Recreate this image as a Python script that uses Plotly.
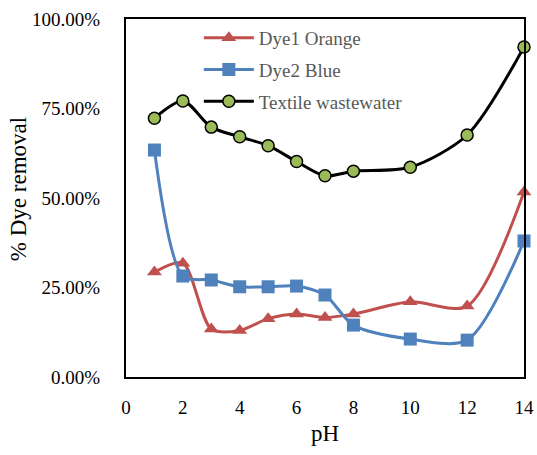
import plotly.graph_objects as go

ph = [1, 2, 3, 4, 5, 6, 7, 8, 10, 12, 14]
dye1_orange = [29.3, 31.8, 13.4, 13.0, 16.3, 17.6, 16.6, 17.6, 21.0, 19.8, 51.7]
dye2_blue = [63.4, 28.2, 27.1, 25.2, 25.2, 25.4, 22.9, 14.5, 10.6, 10.3, 38.0]
textile = [72.3, 77.1, 69.8, 67.1, 64.6, 60.2, 56.2, 57.5, 58.6, 67.6, 92.2]

x_ticks = [0, 2, 4, 6, 8, 10, 12, 14]
y_ticks = [0, 25, 50, 75, 100]
y_labels = ["0.00%", "25.00%", "50.00%", "75.00%", "100.00%"]
y_title = "% Dye removal"
x_title = "pH"

FONT = "Liberation Serif"

fig = go.Figure()
fig.add_trace(go.Scatter(
    x=ph, y=dye1_orange, name="Dye1 Orange", mode="lines+markers", legendgroup="a",
    line=dict(color="#C0504D", width=3, shape="spline", smoothing=0.8),
    marker=dict(symbol="triangle-up", size=13, color="#C0504D"),
    cliponaxis=False,
))
fig.add_trace(go.Scatter(
    x=ph, y=dye2_blue, name="Dye2 Blue", mode="lines+markers", legendgroup="b",
    line=dict(color="#4F81BD", width=3, shape="spline", smoothing=0.8),
    marker=dict(symbol="square", size=13, color="#4F81BD"),
    cliponaxis=False,
))
fig.add_trace(go.Scatter(
    x=ph, y=textile, name="Textile wastewater", mode="lines+markers", legendgroup="c",
    line=dict(color="#000000", width=3, shape="spline", smoothing=0.8),
    marker=dict(symbol="circle", size=12, color="#9BBB59",
                line=dict(color="#000000", width=1.5)),
    cliponaxis=False,
))

fig.update_layout(
    width=537, height=455, autosize=False,
    margin=dict(l=126, r=13, t=19, b=78, autoexpand=False),
    paper_bgcolor="white", plot_bgcolor="white",
    font=dict(family=FONT, size=19, color="#000000"),
    showlegend=True,
    legend=dict(
        x=0.183, y=1.0, xanchor="left", yanchor="top",
        bgcolor="rgba(0,0,0,0)",
        font=dict(family=FONT, size=19, color="#595959"),
        itemwidth=50, tracegroupgap=4,
    ),
    xaxis=dict(
        range=[0, 14], tickvals=x_ticks, ticks="", showgrid=False,
        zeroline=False, showline=True, linecolor="black", linewidth=2,
        mirror=True, ticklabelstandoff=12, automargin=False,
        title=dict(text=x_title, font=dict(family=FONT, size=23), standoff=8),
        tickfont=dict(family=FONT, size=19),
    ),
    yaxis=dict(
        range=[0, 100], tickvals=y_ticks, ticktext=y_labels, ticks="",
        showgrid=False, zeroline=False, showline=True, linecolor="black",
        linewidth=2, mirror=True, ticklabelstandoff=20, automargin=False,
        tickfont=dict(family=FONT, size=19),
    ),
    annotations=[dict(
        text=y_title, textangle=-90, xref="paper", yref="paper",
        x=-0.271, y=0.525, xanchor="center", yanchor="middle", showarrow=False,
        font=dict(family=FONT, size=23, color="#000000"),
    )],
)

fig.write_html("out.html")
